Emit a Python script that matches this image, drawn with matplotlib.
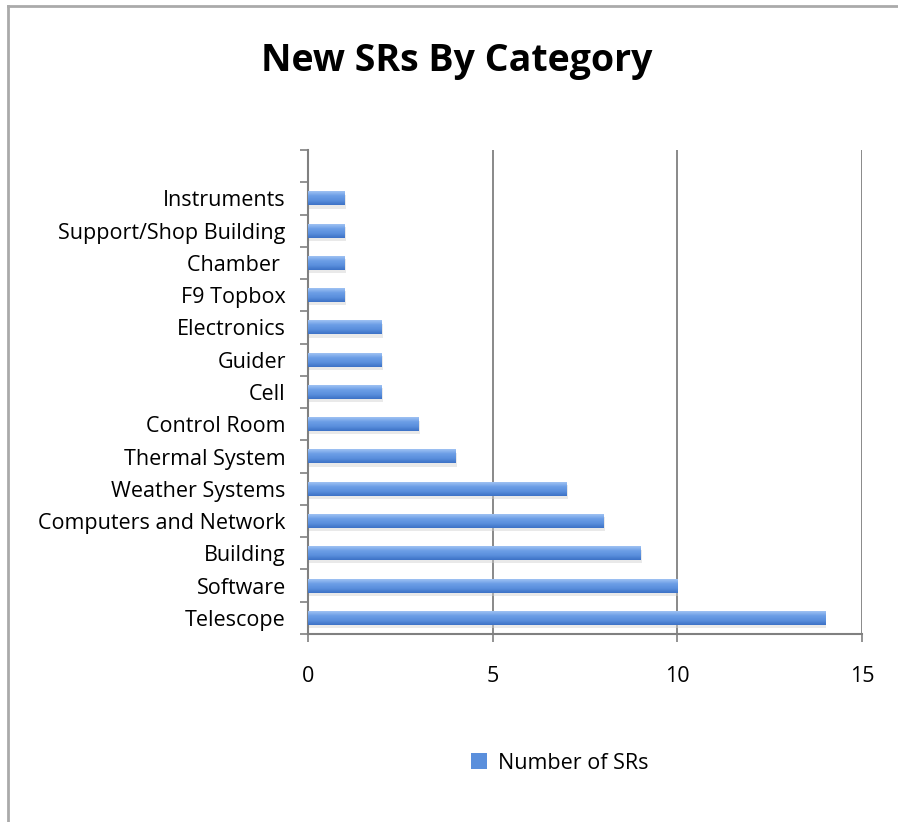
import numpy as np
import matplotlib
matplotlib.use("Agg")
import matplotlib.pyplot as plt
from matplotlib.lines import Line2D
from matplotlib.colors import LinearSegmentedColormap
from matplotlib.patches import Patch

# === data (bottom to top) ===
categories = ["Telescope", "Software", "Building", "Computers and Network",
              "Weather Systems", "Thermal System", "Control Room", "Cell",
              "Guider", "Electronics", "F9 Topbox", "Chamber ",
              "Support/Shop Building", "Instruments"]
counts = [14, 10, 9, 8, 7, 4, 3, 2, 2, 2, 1, 1, 1, 1]
series_name = "Number of SRs"
title = "New SRs By Category"

plt.rcParams['font.family'] = ['Open Sans', 'DejaVu Sans']

fig = plt.figure(figsize=(8.98, 8.22), dpi=100)
ax = fig.add_axes([308 / 898, 1 - 634 / 822, (862 - 308) / 898, (634 - 150) / 822])

y = np.arange(len(categories))
bh = 0.43
grad = LinearSegmentedColormap.from_list("bar", ["#3d72c6", "#5a8fdd", "#6c9ee6", "#9fc2f3"])

# shadow + gradient bars
ax.barh(y - 0.1, counts, height=bh, left=0.03, color="#cfcfcf", alpha=0.45, zorder=2)
bars = ax.barh(y, counts, height=bh, color="#5a8fdc", zorder=3)
g = np.linspace(0, 1, 64).reshape(-1, 1)
for b in bars:
    x0, y0 = b.get_x(), b.get_y()
    ax.imshow(g, extent=[x0, x0 + b.get_width(), y0, y0 + b.get_height()],
              cmap=grad, aspect="auto", origin="lower", zorder=4)

ax.set_xlim(0, 15)
ax.set_ylim(-0.5, len(categories) + 0.5)
ax.set_xticks([0, 5, 10, 15])
ax.set_yticks(y)
ax.set_yticklabels(categories)
ax.set_yticks(np.arange(-0.5, len(categories) + 1), minor=True)
ax.tick_params(axis="y", which="major", length=0, pad=16, labelsize=15.5)
ax.tick_params(axis="y", which="minor", length=6, color="#808080", width=1.2)
ax.tick_params(axis="x", length=6, color="#808080", width=1.2, pad=17, labelsize=15.5)
ax.xaxis.grid(True, color="#808080", linewidth=1.3, zorder=0)
ax.set_axisbelow(True)
for s in ["top", "right"]:
    ax.spines[s].set_visible(False)
for s in ["left", "bottom"]:
    ax.spines[s].set_color("#808080")
    ax.spines[s].set_linewidth(1.5)

fig.text(457 / 898, 1 - 61 / 822, title, ha="center", va="center",
         fontsize=27, fontweight="bold")

handle = Patch(facecolor="#5a8fdc", edgecolor="none")
fig.legend([handle], [series_name], loc="center", frameon=False,
           bbox_to_anchor=(560 / 898, 1 - 763 / 822), fontsize=15.5,
           handlelength=0.75, handleheight=0.75, handletextpad=0.5)

# outer chart border (left and top only visible)
fig.add_artist(Line2D([8 / 898, 8 / 898], [0, 1 - 6 / 822], transform=fig.transFigure,
                      color="#aaaaaa", linewidth=2))
fig.add_artist(Line2D([8 / 898, 1], [1 - 6 / 822, 1 - 6 / 822], transform=fig.transFigure,
                      color="#aaaaaa", linewidth=2))

fig.savefig("out.png", dpi=100)
